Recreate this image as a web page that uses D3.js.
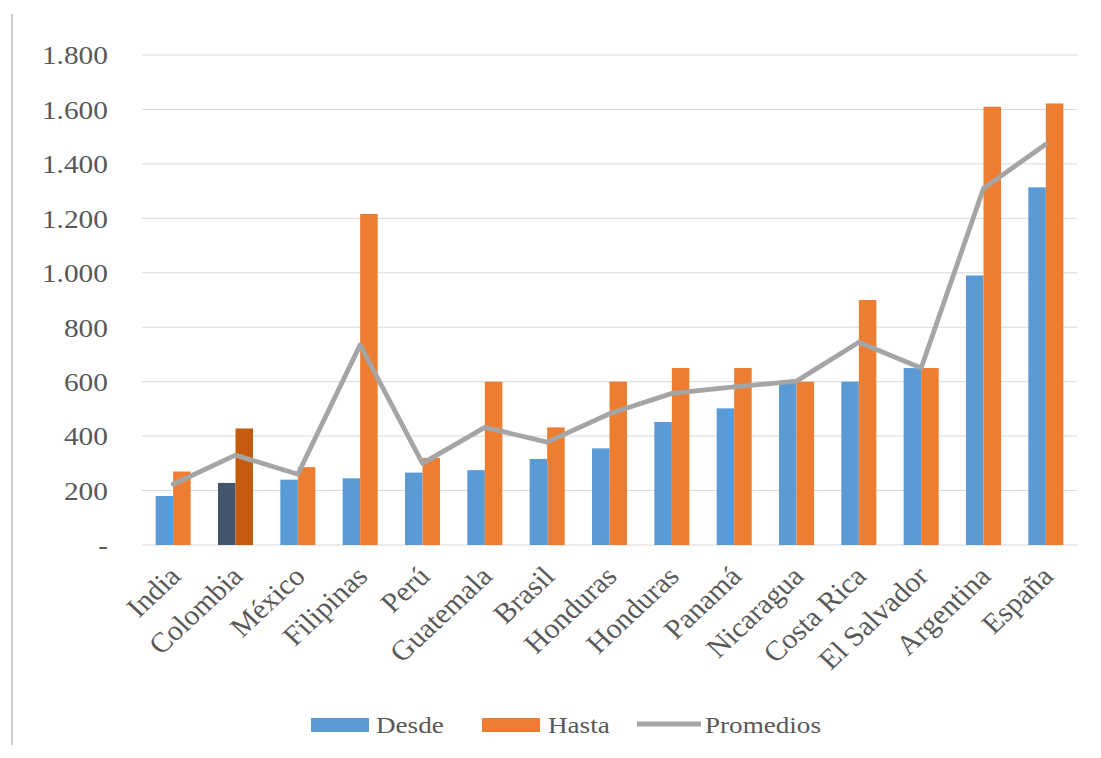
<!DOCTYPE html>
<html lang="es">
<head>
<meta charset="utf-8">
<script src="https://cdn.jsdelivr.net/npm/d3@7"></script>
<style>
  html, body { margin: 0; padding: 0; background: #ffffff; }
  svg { display: block; }
  text { font-family: "Liberation Serif", "Times New Roman", serif; fill: #595959; }
</style>
</head>
<body>
<svg id="chart" width="1101" height="758"></svg>
<script>
// Salario por país: rango (desde / hasta) y promedio
const categories = ["India", "Colombia", "México", "Filipinas", "Perú", "Guatemala", "Brasil",
  "Honduras", "Honduras", "Panamá", "Nicaragua", "Costa Rica", "El Salvador", "Argentina", "España"];
const desde     = [180, 228, 240, 245, 266, 275, 316, 355, 452, 502, 600, 600, 650, 990, 1314];
const hasta     = [270, 428, 286, 1216, 320, 600, 432, 600, 650, 650, 600, 900, 650, 1610, 1622];
const promedios = [223, 330, 260, 735, 300, 432, 378, 482, 557, 581, 602, 745, 650, 1310, 1472];
const yTicks    = [0, 200, 400, 600, 800, 1000, 1200, 1400, 1600, 1800];
const seriesNames = ["Desde", "Hasta", "Promedios"];
const highlighted = 1; // Colombia

const colors = {
  desde: "#5b9bd5", hasta: "#ed7d31", promedio: "#a5a5a5",
  desdeHi: "#44546a", hastaHi: "#c55a11", grid: "#d9d9d9"
};
const stretch = 1.13;   // horizontal widening of the serif labels
const xStretch = 1.07;  // same for the rotated category labels
const fontSize = 26;
const xFontSize = 28;
const legendFontSize = 24;

const svg = d3.select("#chart");

// Left frame line
svg.append("line")
  .attr("x1", 12).attr("x2", 12).attr("y1", 14).attr("y2", 745)
  .attr("stroke", "#cfcfcf").attr("stroke-width", 2);

const plot = { left: 142, right: 1077, top: 55, bottom: 545 };

const x = d3.scaleBand()
  .domain(d3.range(categories.length))
  .range([plot.left, plot.right])
  .paddingInner(0).paddingOuter(0);

const xSub = d3.scaleBand()
  .domain(["desde", "hasta"])
  .range([0, x.bandwidth()])
  .paddingInner(0).paddingOuter(0.78);

const y = d3.scaleLinear().domain([0, 1800]).range([plot.bottom, plot.top]);

const locale = d3.formatLocale({ decimal: ",", thousands: ".", grouping: [3], currency: ["", ""] });
const fmt = locale.format(",");

// Horizontal gridlines
svg.append("g")
  .selectAll("line")
  .data(yTicks)
  .join("line")
  .attr("x1", plot.left).attr("x2", plot.right)
  .attr("y1", d => y(d)).attr("y2", d => y(d))
  .attr("stroke", colors.grid).attr("stroke-width", 1);

// Y axis labels
const yAxis = d3.axisLeft(y).tickValues(yTicks).tickSize(0).tickPadding(0)
  .tickFormat(d => d === 0 ? "-" : fmt(d));
const yG = svg.append("g").attr("transform", "translate(108,0)").call(yAxis);
yG.select(".domain").remove();
yG.selectAll(".tick text")
  .attr("font-size", fontSize)
  .attr("font-family", null)
  .attr("fill", null)
  .attr("x", 0).attr("dy", "0.34em")
  .attr("transform", `scale(${stretch},1)`);

// Bars
const barData = [];
categories.forEach((c, i) => {
  barData.push({ i, key: "desde", v: desde[i] });
  barData.push({ i, key: "hasta", v: hasta[i] });
});
svg.append("g")
  .selectAll("rect")
  .data(barData)
  .join("rect")
  .attr("x", d => x(d.i) + xSub(d.key))
  .attr("width", xSub.bandwidth())
  .attr("y", d => y(d.v))
  .attr("height", d => y(0) - y(d.v))
  .attr("fill", d => d.i === highlighted
    ? (d.key === "desde" ? colors.desdeHi : colors.hastaHi)
    : colors[d.key]);

// Average line
const line = d3.line()
  .x((d, i) => x(i) + x.bandwidth() / 2)
  .y(d => y(d));
svg.append("path")
  .datum(promedios)
  .attr("d", line)
  .attr("fill", "none")
  .attr("stroke", colors.promedio)
  .attr("stroke-width", 4.8)
  .attr("stroke-linejoin", "round")
  .attr("stroke-linecap", "round");

// X axis labels (rotated)
const xAxis = d3.axisBottom(x).tickSize(0).tickFormat(i => categories[i]);
const xG = svg.append("g").attr("transform", `translate(0,${plot.bottom})`).call(xAxis);
xG.select(".domain").remove();
xG.selectAll(".tick text")
  .attr("font-size", xFontSize)
  .attr("font-family", null)
  .attr("fill", null)
  .attr("y", null).attr("dy", null)
  .attr("text-anchor", "end")
  .attr("transform", `translate(9,33) scale(${xStretch},1) rotate(-45)`);

// Legend
const legend = svg.append("g").attr("class", "legend");
const legendItems = [
  { name: seriesNames[0], type: "rect", color: colors.desde, x: 311, tx: 376 },
  { name: seriesNames[1], type: "rect", color: colors.hasta, x: 482, tx: 548 },
  { name: seriesNames[2], type: "line", color: colors.promedio, x: 637, tx: 705 }
];
const legendY = 725;
legendItems.forEach(it => {
  if (it.type === "rect") {
    legend.append("rect").attr("x", it.x).attr("y", legendY - 7)
      .attr("width", 58).attr("height", 14).attr("fill", it.color);
  } else {
    legend.append("line").attr("x1", it.x).attr("x2", it.x + 64)
      .attr("y1", legendY - 1).attr("y2", legendY - 1)
      .attr("stroke", it.color).attr("stroke-width", 4.8);
  }
  legend.append("text")
    .attr("transform", `translate(${it.tx},${legendY}) scale(${stretch},1)`)
    .attr("dy", "0.34em")
    .attr("font-size", legendFontSize)
    .text(it.name);
});
</script>
</body>
</html>
